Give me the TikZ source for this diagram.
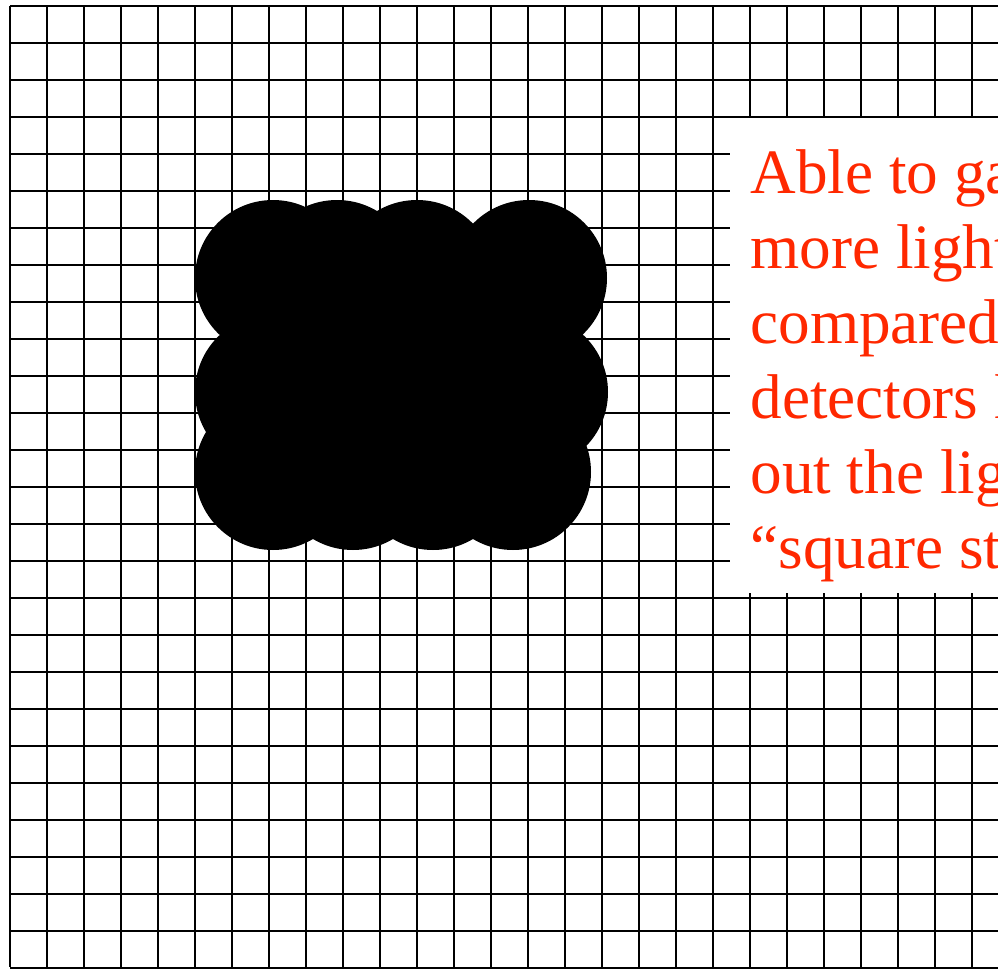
\documentclass[tikz,border=0pt]{standalone}
\usepackage{fontspec}
\setmainfont{Liberation Serif}
\definecolor{notered}{RGB}{255,40,0}
\tikzset{
  gridline/.style = {line width=1pt, black},
  blob/.style     = {fill=black},
  notebox/.style  = {fill=white},
  notetext/.style = {anchor=base west, inner sep=0pt, text=notered, font=\fontsize{31.6pt}{37.5pt}\selectfont}
}
\begin{document}
\begin{tikzpicture}[x=0.5pt, y=-0.5pt]
  \clip (0,0) rectangle (998,969);
  \fill[white] (0,0) rectangle (998,969);

  % detector grid
  \foreach \i in {0,...,27}
    \draw[gridline] (10+37*\i,6) -- (10+37*\i,967);
  \foreach \j in {0,...,26}
    \draw[gridline] (10,6+37*\j) -- (1010,6+37*\j);

  % light spot
  \fill[blob]
    (273,278) circle[radius=78] (337,278) circle[radius=78]
    (417,278) circle[radius=78] (529,278) circle[radius=78]
    (273,392) circle[radius=78] (353,392) circle[radius=78]
    (433,392) circle[radius=78] (530,392) circle[radius=78]
    (273,472) circle[radius=78] (353,472) circle[radius=78]
    (433,472) circle[radius=78] (513,472) circle[radius=78];

  % note
  \fill[notebox] (730,118) rectangle (1010,593);
  \foreach \t [count=\k] in {Able to ga, more light, compared, detectors l, out the lig, “square st}
    \node[notetext] (line\k) at (750,118+75*\k) {\t};
\end{tikzpicture}
\end{document}
